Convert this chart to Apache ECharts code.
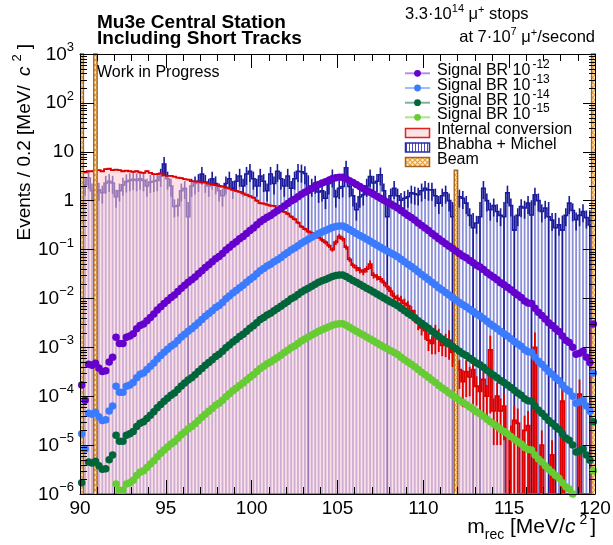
<!DOCTYPE html>
<html>
<head>
<meta charset="utf-8">
<script src="https://cdn.jsdelivr.net/npm/echarts@6/dist/echarts.min.js"></script>
<style>
html,body{margin:0;padding:0;background:#ffffff;}
#chart{width:613px;height:545px;}
</style>
</head>
<body>
<div id="chart"></div>
<script>
// ---------------- binning / axes ----------------
const X_MIN = 90, X_MAX = 120, BIN_WIDTH = 0.2;
const Y_MIN = 1e-6, Y_MAX = 1e3;
const xTickLabels = [90, 95, 100, 105, 110, 115, 120];
const yDecades = [-6, -5, -4, -3, -2, -1, 0, 1, 2, 3];

// ---------------- Signal BR 1e-12 (events / bin) ----------------
const sig12 = [
1.7e-4, 8.3e-5, 4.5e-4, 4.3e-4, 4.7e-4, 3.8e-4, 3.2e-4, 3.3e-4, 5.0e-4, 6.3e-4,
1.6e-3, 1.2e-3, 1.2e-3, 1.6e-3, 1.7e-3, 1.9e-3, 2.4e-3, 2.8e-3, 3.0e-3, 3.5e-3,
4.1e-3, 4.8e-3, 5.8e-3, 6.8e-3, 7.9e-3, 9.1e-3, 1.05e-2, 1.17e-2, 1.38e-2, 1.62e-2,
1.86e-2, 2.14e-2, 2.4e-2, 2.75e-2, 3.2e-2, 3.7e-2, 4.3e-2, 4.9e-2, 5.6e-2, 6.5e-2,
7.2e-2, 8.3e-2, 9.8e-2, 1.12e-1, 1.29e-1, 1.45e-1, 1.66e-1, 1.86e-1, 2.14e-1, 2.45e-1,
2.75e-1, 3.2e-1, 3.7e-1, 4.1e-1, 4.6e-1, 5.0e-1, 5.6e-1, 6.2e-1, 6.9e-1, 7.8e-1,
8.7e-1, 9.8e-1, 1.07, 1.20, 1.35, 1.48, 1.62, 1.78, 1.95, 2.14,
2.29, 2.45, 2.63, 2.82, 2.95, 3.02, 3.02, 2.82, 2.57, 2.34,
2.14, 1.95, 1.78, 1.62, 1.48, 1.35, 1.23, 1.12, 1.02, 9.3e-1,
8.5e-1, 7.8e-1, 7.1e-1, 6.3e-1, 5.6e-1, 5.0e-1, 4.5e-1, 4.0e-1, 3.5e-1, 3.1e-1,
2.75e-1, 2.45e-1, 2.14e-1, 1.9e-1, 1.66e-1, 1.48e-1, 1.32e-1, 1.17e-1, 1.05e-1, 9.3e-2,
8.3e-2, 7.4e-2, 6.8e-2, 6.0e-2, 5.4e-2, 4.8e-2, 4.4e-2, 3.9e-2, 3.4e-2, 3.0e-2,
2.7e-2, 2.4e-2, 2.1e-2, 1.9e-2, 1.7e-2, 1.5e-2, 1.32e-2, 1.17e-2, 1.05e-2, 8.9e-3,
8.1e-3, 7.9e-3, 6.3e-3, 5.2e-3, 4.5e-3, 3.8e-3, 3.2e-3, 2.8e-3, 2.4e-3, 2.1e-3,
1.7e-3, 1.4e-3, 1.26e-3, 1.0e-3, 7.2e-4, 7.6e-4, 8.3e-4, 6.3e-4, 4.9e-4, 3.0e-3
];
// ---------------- Signal BR 1e-13 ----------------
const sig13 = [
1.7e-5, 8.3e-6, 4.5e-5, 4.3e-5, 4.7e-5, 3.8e-5, 3.2e-5, 3.3e-5, 5.0e-5, 6.3e-5,
1.6e-4, 1.2e-4, 1.2e-4, 1.6e-4, 1.7e-4, 1.9e-4, 2.4e-4, 2.8e-4, 3.0e-4, 3.5e-4,
4.1e-4, 4.8e-4, 5.8e-4, 6.8e-4, 7.9e-4, 9.1e-4, 1.05e-3, 1.17e-3, 1.38e-3, 1.62e-3,
1.86e-3, 2.14e-3, 2.4e-3, 2.75e-3, 3.2e-3, 3.7e-3, 4.3e-3, 4.9e-3, 5.6e-3, 6.5e-3,
7.2e-3, 8.3e-3, 9.8e-3, 1.12e-2, 1.29e-2, 1.45e-2, 1.66e-2, 1.86e-2, 2.14e-2, 2.45e-2,
2.75e-2, 3.2e-2, 3.7e-2, 4.1e-2, 4.6e-2, 5.0e-2, 5.6e-2, 6.2e-2, 6.9e-2, 7.8e-2,
8.7e-2, 9.8e-2, 1.07e-1, 1.20e-1, 1.35e-1, 1.48e-1, 1.62e-1, 1.78e-1, 1.95e-1, 2.14e-1,
2.29e-1, 2.45e-1, 2.63e-1, 2.82e-1, 2.95e-1, 3.02e-1, 3.02e-1, 2.82e-1, 2.57e-1, 2.34e-1,
2.14e-1, 1.95e-1, 1.78e-1, 1.62e-1, 1.48e-1, 1.35e-1, 1.23e-1, 1.12e-1, 1.02e-1, 9.3e-2,
8.5e-2, 7.8e-2, 7.1e-2, 6.3e-2, 5.6e-2, 5.0e-2, 4.5e-2, 4.0e-2, 3.5e-2, 3.1e-2,
2.75e-2, 2.45e-2, 2.14e-2, 1.9e-2, 1.66e-2, 1.48e-2, 1.32e-2, 1.17e-2, 1.05e-2, 9.3e-3,
8.3e-3, 7.4e-3, 6.8e-3, 6.0e-3, 5.4e-3, 4.8e-3, 4.4e-3, 3.9e-3, 3.4e-3, 3.0e-3,
2.7e-3, 2.4e-3, 2.1e-3, 1.9e-3, 1.7e-3, 1.5e-3, 1.32e-3, 1.17e-3, 1.05e-3, 8.9e-4,
8.1e-4, 7.9e-4, 6.3e-4, 5.2e-4, 4.5e-4, 3.8e-4, 3.2e-4, 2.8e-4, 2.4e-4, 2.1e-4,
1.7e-4, 1.4e-4, 1.26e-4, 1.0e-4, 7.2e-5, 7.6e-5, 8.3e-5, 6.3e-5, 4.9e-5, 3.0e-4
];
// ---------------- Signal BR 1e-14 ----------------
const sig14 = [
1.7e-6, 8.3e-7, 4.5e-6, 4.3e-6, 4.7e-6, 3.8e-6, 3.2e-6, 3.3e-6, 5.0e-6, 6.3e-6,
1.6e-5, 1.2e-5, 1.2e-5, 1.6e-5, 1.7e-5, 1.9e-5, 2.4e-5, 2.8e-5, 3.0e-5, 3.5e-5,
4.1e-5, 4.8e-5, 5.8e-5, 6.8e-5, 7.9e-5, 9.1e-5, 1.05e-4, 1.17e-4, 1.38e-4, 1.62e-4,
1.86e-4, 2.14e-4, 2.4e-4, 2.75e-4, 3.2e-4, 3.7e-4, 4.3e-4, 4.9e-4, 5.6e-4, 6.5e-4,
7.2e-4, 8.3e-4, 9.8e-4, 1.12e-3, 1.29e-3, 1.45e-3, 1.66e-3, 1.86e-3, 2.14e-3, 2.45e-3,
2.75e-3, 3.2e-3, 3.7e-3, 4.1e-3, 4.6e-3, 5.0e-3, 5.6e-3, 6.2e-3, 6.9e-3, 7.8e-3,
8.7e-3, 9.8e-3, 1.07e-2, 1.20e-2, 1.35e-2, 1.48e-2, 1.62e-2, 1.78e-2, 1.95e-2, 2.14e-2,
2.29e-2, 2.45e-2, 2.63e-2, 2.82e-2, 2.95e-2, 3.02e-2, 3.02e-2, 2.82e-2, 2.57e-2, 2.34e-2,
2.14e-2, 1.95e-2, 1.78e-2, 1.62e-2, 1.48e-2, 1.35e-2, 1.23e-2, 1.12e-2, 1.02e-2, 9.3e-3,
8.5e-3, 7.8e-3, 7.1e-3, 6.3e-3, 5.6e-3, 5.0e-3, 4.5e-3, 4.0e-3, 3.5e-3, 3.1e-3,
2.75e-3, 2.45e-3, 2.14e-3, 1.9e-3, 1.66e-3, 1.48e-3, 1.32e-3, 1.17e-3, 1.05e-3, 9.3e-4,
8.3e-4, 7.4e-4, 6.8e-4, 6.0e-4, 5.4e-4, 4.8e-4, 4.4e-4, 3.9e-4, 3.4e-4, 3.0e-4,
2.7e-4, 2.4e-4, 2.1e-4, 1.9e-4, 1.7e-4, 1.5e-4, 1.32e-4, 1.17e-4, 1.05e-4, 8.9e-5,
8.1e-5, 7.9e-5, 6.3e-5, 5.2e-5, 4.5e-5, 3.8e-5, 3.2e-5, 2.8e-5, 2.4e-5, 2.1e-5,
1.7e-5, 1.4e-5, 1.26e-5, 1.0e-5, 7.2e-6, 7.6e-6, 8.3e-6, 6.3e-6, 4.9e-6, 3.0e-5
];
// ---------------- Signal BR 1e-15 ----------------
const sig15 = [
1.7e-7, 8.3e-8, 4.5e-7, 4.3e-7, 4.7e-7, 3.8e-7, 3.2e-7, 3.3e-7, 5.0e-7, 6.3e-7,
1.6e-6, 1.2e-6, 1.2e-6, 1.6e-6, 1.7e-6, 1.9e-6, 2.4e-6, 2.8e-6, 3.0e-6, 3.5e-6,
4.1e-6, 4.8e-6, 5.8e-6, 6.8e-6, 7.9e-6, 9.1e-6, 1.05e-5, 1.17e-5, 1.38e-5, 1.62e-5,
1.86e-5, 2.14e-5, 2.4e-5, 2.75e-5, 3.2e-5, 3.7e-5, 4.3e-5, 4.9e-5, 5.6e-5, 6.5e-5,
7.2e-5, 8.3e-5, 9.8e-5, 1.12e-4, 1.29e-4, 1.45e-4, 1.66e-4, 1.86e-4, 2.14e-4, 2.45e-4,
2.75e-4, 3.2e-4, 3.7e-4, 4.1e-4, 4.6e-4, 5.0e-4, 5.6e-4, 6.2e-4, 6.9e-4, 7.8e-4,
8.7e-4, 9.8e-4, 1.07e-3, 1.20e-3, 1.35e-3, 1.48e-3, 1.62e-3, 1.78e-3, 1.95e-3, 2.14e-3,
2.29e-3, 2.45e-3, 2.63e-3, 2.82e-3, 2.95e-3, 3.02e-3, 3.02e-3, 2.82e-3, 2.57e-3, 2.34e-3,
2.14e-3, 1.95e-3, 1.78e-3, 1.62e-3, 1.48e-3, 1.35e-3, 1.23e-3, 1.12e-3, 1.02e-3, 9.3e-4,
8.5e-4, 7.8e-4, 7.1e-4, 6.3e-4, 5.6e-4, 5.0e-4, 4.5e-4, 4.0e-4, 3.5e-4, 3.1e-4,
2.75e-4, 2.45e-4, 2.14e-4, 1.9e-4, 1.66e-4, 1.48e-4, 1.32e-4, 1.17e-4, 1.05e-4, 9.3e-5,
8.3e-5, 7.4e-5, 6.8e-5, 6.0e-5, 5.4e-5, 4.8e-5, 4.4e-5, 3.9e-5, 3.4e-5, 3.0e-5,
2.7e-5, 2.4e-5, 2.1e-5, 1.9e-5, 1.7e-5, 1.5e-5, 1.32e-5, 1.17e-5, 1.05e-5, 8.9e-6,
8.1e-6, 7.9e-6, 6.3e-6, 5.2e-6, 4.5e-6, 3.8e-6, 3.2e-6, 2.8e-6, 2.4e-6, 2.1e-6,
1.7e-6, 1.4e-6, 1.26e-6, 1.0e-6, 7.2e-7, 7.6e-7, 8.3e-7, 6.3e-7, 4.9e-7, 3.0e-6
];
// ---------------- Internal conversion ----------------
const icVals = [
3.7, 3.8, 4.0, 4.0, 4.2, 4.2, 4.0, 4.4, 4.5, 4.2,
4.3, 4.2, 4.0, 4.1, 4.0, 3.9, 4.0, 3.8, 3.7, 4.0,
3.7, 3.5, 3.5, 3.6, 3.3, 3.2, 3.2, 3.1, 2.95, 2.9,
2.75, 2.7, 2.5, 2.45, 2.45, 2.35, 2.35, 2.24, 2.14, 2.09,
2.0, 1.95, 1.86, 1.78, 1.66, 1.58, 1.51, 1.41, 1.32, 1.23,
1.15, 1.0, 0.89, 0.87, 0.83, 0.79, 0.78, 0.69, 0.63, 0.59,
0.54, 0.47, 0.42, 0.355, 0.295, 0.263, 0.234, 0.219, 0.2, 0.178,
0.158, 0.141, 0.12, 0.1, 0.141, 0.186, 0.166, 0.112, 0.063, 0.048,
0.042, 0.038, 0.035, 0.04, 0.05, 0.030, 0.0275, 0.025, 0.021, 0.0174,
0.0141, 0.011, 0.010, 0.0091, 0.0079, 0.0071, 0.0056, 0.0045, 0.0032, 0.0025,
0.0022, 0.0014, 0.0012, 0.0018, 0.0016, 0.0011, 0.00126, 0.0014, 0.00079, 0.0005,
3.5e-4, 2.0e-4, 3.2e-4, 2.5e-4, 3.5e-4, 1.6e-4, 1.26e-4, 2.2e-4, 1.0e-4, 8.9e-4,
5e-5, 1e-4, 5e-5, 6.3e-5, 0, 1.26e-5, 3.2e-5, 2.8e-5, 0, 2e-5,
2.5e-5, 0, 1e-3, 0, 1e-5, 0, 0, 6.3e-6, 0, 0,
7.9e-5, 0, 0, 0, 0, 1.1e-4, 0, 0, 0, 2.5e-3
];
const icRelErr = [
0.03,0.03,0.03,0.03,0.03,0.03,0.03,0.03,0.03,0.03,
0.03,0.03,0.03,0.03,0.03,0.03,0.03,0.03,0.03,0.03,
0.03,0.03,0.03,0.03,0.03,0.03,0.03,0.03,0.03,0.03,
0.03,0.03,0.03,0.03,0.03,0.03,0.03,0.03,0.03,0.03,
0.04,0.04,0.04,0.04,0.04,0.04,0.04,0.04,0.04,0.04,
0.05,0.05,0.05,0.05,0.05,0.05,0.05,0.05,0.05,0.05,
0.07,0.07,0.07,0.07,0.07,0.07,0.07,0.07,0.07,0.07,
0.1,0.1,0.1,0.1,0.12,0.12,0.12,0.12,0.12,0.12,
0.15,0.15,0.15,0.15,0.2,0.15,0.15,0.15,0.15,0.15,
0.2,0.2,0.2,0.25,0.25,0.25,0.25,0.3,0.3,0.3,
0.35,0.4,0.4,0.6,0.5,0.4,0.5,0.6,0.5,0.6,
0.6,0.7,0.7,0.6,0.8,0.6,0.7,0.8,0.7,0.95,
0.8,0.9,0.8,0.8,1,1,1,1,1,1,
1,1,1,1,1,1,1,1,1,1,
1,1,1,1,1,1,1,1,1,1
];
// ---------------- Bhabha + Michel ----------------
const bmVals = [
2.24, 2.1, 2.9, 1.6, 1.5, 1.66, 1.45, 2.3, 2.5, 2.3,
1.2, 1.6, 2.1, 2.45, 2.6, 2.75, 2.6, 2.8, 2.6, 2.0,
2.4, 2.5, 2.6, 3.2, 5.6, 2.8, 2.0, 0.76, 0.79, 1.6,
1.8, 0.47, 2.0, 2.24, 2.5, 3.5, 2.4, 2.0, 2.8, 2.24,
1.6, 1.26, 2.24, 2.8, 1.8, 2.5, 3.2, 2.0, 3.5, 4.0,
2.8, 2.0, 3.2, 2.5, 1.6, 3.5, 2.24, 4.0, 2.8, 2.0,
3.2, 1.8, 2.8, 4.0, 3.9, 3.6, 1.66, 2.0, 2.3, 1.5,
1.6, 1.12, 2.24, 3.1, 1.2, 1.8, 1.95, 4.7, 1.95, 1.26,
0.65, 1.2, 1.32, 2.0, 3.1, 2.3, 2.5, 3.4, 1.6, 0.47,
1.26, 1.8, 1.26, 1.02, 1.12, 1.2, 1.45, 1.38, 1.32, 1.6,
1.8, 1.66, 1.66, 1.26, 0.89, 1.26, 1.45, 1.0, 0.47, 0.79,
1.2, 1.12, 0.89, 0.5, 0.28, 0.35, 0.47, 1.8, 1.0, 0.65,
0.79, 0.6, 0.5, 0.47, 1.45, 0.79, 0.25, 0.5, 0.76, 0.71,
0.89, 0.51, 1.32, 1.0, 0.6, 0.71, 0.47, 0.4, 0.28, 0.32,
0.25, 0.5, 0.89, 0.63, 0.41, 0.5, 0.6, 0.45, 0.32, 0.4
];
const BM_REL_ERR = 0.4;
const bmFullErrBins = [96.3, 103.3, 107.9, 111.7, 112.9, 113.3, 114.7, 115.3, 116.3, 117.3, 117.7, 118.1, 119.7];
// ---------------- Beam ----------------
const beamBins = [90.1, 90.9, 111.9, 119.9];
const beamVals = [5000, 5000, 4.2, 5000];

// ================= drawing =================
const FONT = "'Liberation Sans', Arial, Helvetica, sans-serif";
const NB = sig12.length;
const centers = sig12.map((_, i) => Math.round((X_MIN + BIN_WIDTH * (i + 0.5)) * 100) / 100);
const beamArr = centers.map(c => { const k = beamBins.findIndex(b => Math.abs(b - c) < 1e-6); return k >= 0 ? beamVals[k] : 0; });
const bmFull = centers.map(c => bmFullErrBins.some(b => Math.abs(b - c) < 1e-6));

function makePattern(draw, w, h) {
  const c = document.createElement('canvas'); c.width = w; c.height = h;
  const g = c.getContext('2d'); draw(g, w, h);
  return { image: c, repeat: 'repeat' };
}
const beamPat = makePattern((g, w, h) => {
  g.fillStyle = '#ffeccc'; g.fillRect(0, 0, w, h);
  g.strokeStyle = '#f0a030'; g.lineWidth = 1.2;
  g.beginPath(); g.moveTo(0, 0); g.lineTo(w, h); g.moveTo(w, 0); g.lineTo(0, h); g.stroke();
}, 5, 5);
const stripePat = makePattern((g, w, h) => {
  g.fillStyle = '#ffffff'; g.fillRect(0, 0, w, h);
  g.fillStyle = '#4a4ac8'; g.fillRect(1, 0, 1, h);
}, 3, 4);

function frame(api) {
  const p0 = api.coord([X_MIN, Y_MIN]);
  const p1 = api.coord([X_MAX, Y_MAX]);
  return { left: p0[0], bot: p0[1], right: p1[0], top: p1[1] };
}
function ypx(api, v, f) {
  if (!(v > 0)) return f.bot;
  const y = api.coord([X_MIN, v])[1];
  return Math.min(f.bot, Math.max(f.top, y));
}
function xpx(api, x) { return api.coord([x, 1])[0]; }
function stepPts(api, vals, f) {
  const pts = [];
  for (let i = 0; i < NB; i++) {
    const x0 = xpx(api, centers[i] - BIN_WIDTH / 2), x1 = xpx(api, centers[i] + BIN_WIDTH / 2);
    const y = ypx(api, vals[i], f);
    pts.push([x0, y], [x1, y]);
  }
  return pts;
}
function single(name, render, z) {
  return { type: 'custom', name, data: [[100, 1]], renderItem: render, z: z || 2, silent: true, animation: false };
}
function errGroup(api, vals, relFn, color, lw) {
  const f = frame(api); const ch = [];
  for (let i = 0; i < NB; i++) {
    const v = vals[i]; if (!(v > 0)) continue;
    const e = relFn(i);
    const xc = xpx(api, centers[i]);
    const yTop = ypx(api, v * (1 + e), f);
    const yBot = e >= 1 ? f.bot : ypx(api, v * (1 - e), f);
    ch.push({ type: 'line', shape: { x1: xc, y1: yTop, x2: xc, y2: yBot }, style: { stroke: color, lineWidth: lw } });
  }
  return { type: 'group', children: ch };
}

const series = [];
// Bhabha hatch stripes
series.push(single('bmStripes', (p, api) => {
  const f = frame(api); const ch = [];
  for (let i = 0; i < NB; i++) {
    const v = bmVals[i]; if (!(v > 0)) continue;
    const xc = xpx(api, centers[i]); const y = ypx(api, v, f);
    ch.push({ type: 'rect', shape: { x: xc - 0.9, y: y, width: 1.8, height: f.bot - y }, style: { fill: '#8a8fd8' } });
  }
  return { type: 'group', children: ch };
}));
// Bhabha outline + errors
series.push(single('bmLine', (p, api) => {
  const f = frame(api);
  return { type: 'polyline', shape: { points: stepPts(api, bmVals, f) }, style: { stroke: '#1a1a9a', lineWidth: 1.6, fill: null } };
}));
series.push(single('bmErr', (p, api) => errGroup(api, bmVals, i => bmFull[i] ? 1 : BM_REL_ERR, '#1a1a9a', 1.6)));
// Internal conversion fill
series.push(single('icFill', (p, api) => {
  const f = frame(api);
  const pts = [[f.left, f.bot]].concat(stepPts(api, icVals, f), [[f.right, f.bot]]);
  return { type: 'polygon', shape: { points: pts }, style: { fill: 'rgba(255,200,210,0.55)', stroke: null } };
}));
series.push(single('icLine', (p, api) => {
  const f = frame(api);
  return { type: 'polyline', shape: { points: stepPts(api, icVals, f) }, style: { stroke: '#dd0000', lineWidth: 1.8, fill: null } };
}));
series.push(single('icErr', (p, api) => errGroup(api, icVals, i => icRelErr[i], '#dd0000', 1.8)));
// Beam
series.push(single('beam', (p, api) => {
  const f = frame(api); const ch = [];
  for (let i = 0; i < NB; i++) {
    const v = beamArr[i]; if (!(v > 0)) continue;
    const x0 = xpx(api, centers[i] - BIN_WIDTH / 2), x1 = xpx(api, centers[i] + BIN_WIDTH / 2);
    const y = ypx(api, v, f);
    ch.push({ type: 'rect', shape: { x: x0, y: y, width: x1 - x0, height: f.bot - y }, style: { fill: beamPat } });
  }
  ch.push({ type: 'polyline', shape: { points: stepPts(api, beamArr, f) }, style: { stroke: '#a8651f', lineWidth: 1.4, fill: null } });
  return { type: 'group', children: ch };
}, 3));
// Signals
const sigDefs = [
  { name: 'Signal BR 10-15', data: sig15, color: '#66cc33' },
  { name: 'Signal BR 10-14', data: sig14, color: '#00663a' },
  { name: 'Signal BR 10-13', data: sig13, color: '#3a7bff' },
  { name: 'Signal BR 10-12', data: sig12, color: '#6600cc' }
];
sigDefs.forEach(s => {
  series.push({
    type: 'scatter', name: s.name, data: centers.map((c, i) => [c, s.data[i]]),
    symbol: 'circle', symbolSize: 7.5, itemStyle: { color: s.color, opacity: 1 },
    clip: true, z: 5, silent: true, animation: false
  });
});
// log minor ticks on left and right frame
const minorVals = [];
for (let d = -6; d <= 2; d++) for (let k = 2; k <= 9; k++) minorVals.push(k * Math.pow(10, d));
series.push(single('yMinor', (p, api) => {
  const f = frame(api); const ch = [];
  minorVals.forEach(v => {
    const y = Math.round(api.coord([X_MIN, v])[1]) + 0.5;
    ch.push({ type: 'line', shape: { x1: f.left, y1: y, x2: f.left + 7, y2: y }, style: { stroke: '#000', lineWidth: 1 } });
    ch.push({ type: 'line', shape: { x1: f.right - 6, y1: y, x2: f.right, y2: y }, style: { stroke: '#000', lineWidth: 1 } });
  });
  return { type: 'group', children: ch };
}, 11));

const axisCommon = {
  axisLine: { show: true, onZero: false, lineStyle: { color: '#000', width: 1 } },
  splitLine: { show: false }, minorSplitLine: { show: false },
  axisLabel: { show: false }, z: 10
};
const xAx = pos => Object.assign({
  type: 'value', min: X_MIN, max: X_MAX, interval: 5, position: pos,
  axisTick: { show: true, inside: true, length: 14, lineStyle: { color: '#000', width: 1 } },
  minorTick: { show: true, splitNumber: 5, length: 7, lineStyle: { color: '#000', width: 1 } }
}, axisCommon);
const yAx = (pos, len) => Object.assign({
  type: 'log', logBase: 10, min: Y_MIN, max: Y_MAX, position: pos, splitNumber: 5,
  axisTick: { show: true, inside: true, length: len, lineStyle: { color: '#000', width: 1 } },
  minorTick: { show: false }
}, axisCommon);

const chart = echarts.init(document.getElementById('chart'), null, { renderer: 'canvas' });
chart.setOption({
  animation: false,
  backgroundColor: '#ffffff',
  grid: { left: 80, right: 18, top: 54, bottom: 51, containLabel: false, outerBoundsMode: 'none' },
  xAxis: [Object.assign(xAx('bottom'), { gridIndex: 0 }), Object.assign(xAx('top'), { gridIndex: 0 })],
  yAxis: [Object.assign(yAx('left', 14), { gridIndex: 0 }), Object.assign(yAx('right', 12), { gridIndex: 0 })],
  series: series.map(s => Object.assign(s, { xAxisIndex: 0, yAxisIndex: 0 }))
});

// ---------- text helpers ----------
const mctx = document.createElement('canvas').getContext('2d');
function fontStr(size, style) { return (style ? style + ' ' : '') + size + 'px ' + FONT; }
function tw(t, size, style) { mctx.font = fontStr(size, style); return mctx.measureText(t).width; }
function runWidth(segs) { return segs.reduce((a, s) => a + tw(s.t, s.size, s.style) + (s.dx || 0), 0); }
function run(segs, x, B, align) {
  const ws = segs.map(s => tw(s.t, s.size, s.style));
  const total = runWidth(segs);
  let cx = align === 'right' ? x - total : (align === 'center' ? x - total / 2 : x);
  return segs.map((s, i) => {
    cx += (s.dx || 0);
    const el = {
      type: 'text', x: cx, y: B + (s.dy || 0) - 0.35 * s.size, silent: true, z: 100,
      style: { text: s.t, font: fontStr(s.size, s.style), fill: s.fill || '#000', align: 'left', verticalAlign: 'middle', textAlign: 'left', textVerticalAlign: 'middle' }
    };
    cx += ws[i];
    return el;
  });
}

const g = [];
// tick labels
xTickLabels.forEach(v => {
  const px = chart.convertToPixel({ xAxisIndex: 0 }, v);
  g.push(...run([{ t: String(v), size: 19 }], px, 515, 'center'));
});
yDecades.forEach(e => {
  const py = chart.convertToPixel({ yAxisIndex: 0 }, Math.pow(10, e));
  let segs;
  if (e === 0) segs = [{ t: '1', size: 19 }];
  else if (e === 1) segs = [{ t: '10', size: 19 }];
  else segs = [{ t: '10', size: 19 }, { t: (e < 0 ? '\u2212' : '') + Math.abs(e), size: 13, dy: -9 }];
  g.push(...run(segs, 74, py + 7, 'right'));
});
// axis titles
g.push(...run([
  { t: 'm', size: 21 }, { t: 'rec', size: 14, dy: 5 }, { t: ' [MeV/', size: 21 },
  { t: 'c', size: 21, style: 'italic' }, { t: '2', size: 14, dy: -10, dx: 4 }, { t: ']', size: 21, dx: 3 }
], 596, 535, 'right'));
const yTitleSegs = [
  { t: 'Events / 0.2 [MeV/ ', size: 19 }, { t: 'c', size: 19, style: 'italic', dx: 4 },
  { t: '2', size: 13, dy: -9, dx: 5 }, { t: ']', size: 19, dx: 5 }
];
const yTitleEnd = 44;
g.push({
  type: 'group', x: 31, y: yTitleEnd + runWidth(yTitleSegs), rotation: Math.PI / 2, z: 100,
  children: run(yTitleSegs, 0, 0, 'left')
});
// titles
g.push(...run([{ t: 'Mu3e Central Station', size: 19, style: 'bold' }], 97, 29, 'left'));
g.push(...run([{ t: 'Including Short Tracks', size: 19, style: 'bold' }], 97, 45.5, 'left'));
g.push(...run([{ t: '3.3\u00b710', size: 16.5 }, { t: '14', size: 11, dy: -7 }, { t: ' \u03bc', size: 16.5 }, { t: '+', size: 11, dy: -6 }, { t: ' stops', size: 16.5 }], 405, 20, 'left'));
g.push(...run([{ t: 'at 7\u00b710', size: 16.5 }, { t: '7', size: 11, dy: -7 }, { t: ' \u03bc', size: 16.5 }, { t: '+', size: 11, dy: -6 }, { t: '/second', size: 16.5 }], 595, 43, 'right'));
g.push(...run([{ t: 'Work in Progress', size: 16 }], 97, 78, 'left'));

// legend
const legSig = [
  { y: 73.3, color: '#6600cc', line: 'rgba(102,0,204,0.45)', exp: '-12' },
  { y: 88, color: '#3a7bff', line: 'rgba(58,123,255,0.5)', exp: '-13' },
  { y: 102.7, color: '#00663a', line: 'rgba(0,102,58,0.5)', exp: '-14' },
  { y: 117.3, color: '#66cc33', line: 'rgba(102,204,51,0.55)', exp: '-15' }
];
legSig.forEach(r => {
  g.push({ type: 'line', shape: { x1: 405, y1: r.y, x2: 430, y2: r.y }, style: { stroke: r.line, lineWidth: 2 }, z: 100, silent: true });
  g.push({ type: 'circle', shape: { cx: 417.5, cy: r.y, r: 3.4 }, style: { fill: r.color }, z: 101, silent: true });
  g.push(...run([{ t: 'Signal BR 10', size: 16 }, { t: r.exp, size: 12, dy: -7, dx: 2 }], 437, r.y + 3, 'left'));
});
g.push({ type: 'rect', shape: { x: 405.5, y: 128.5, width: 24, height: 9 }, style: { fill: '#fde3e6', stroke: '#dd2222', lineWidth: 1.5 }, z: 100, silent: true });
g.push(...run([{ t: 'Internal conversion', size: 16 }], 437, 135, 'left'));
g.push({ type: 'rect', shape: { x: 405.5, y: 143, width: 24, height: 9 }, style: { fill: stripePat, stroke: '#2a2aa8', lineWidth: 1.5 }, z: 100, silent: true });
g.push(...run([{ t: 'Bhabha + Michel', size: 16 }], 437, 150, 'left'));
g.push({ type: 'rect', shape: { x: 405.5, y: 157.5, width: 24, height: 9 }, style: { fill: beamPat, stroke: '#a0642a', lineWidth: 1.5 }, z: 100, silent: true });
g.push(...run([{ t: 'Beam', size: 16 }], 437, 165, 'left'));

chart.setOption({ graphic: { elements: g } });
</script>
</body>
</html>
